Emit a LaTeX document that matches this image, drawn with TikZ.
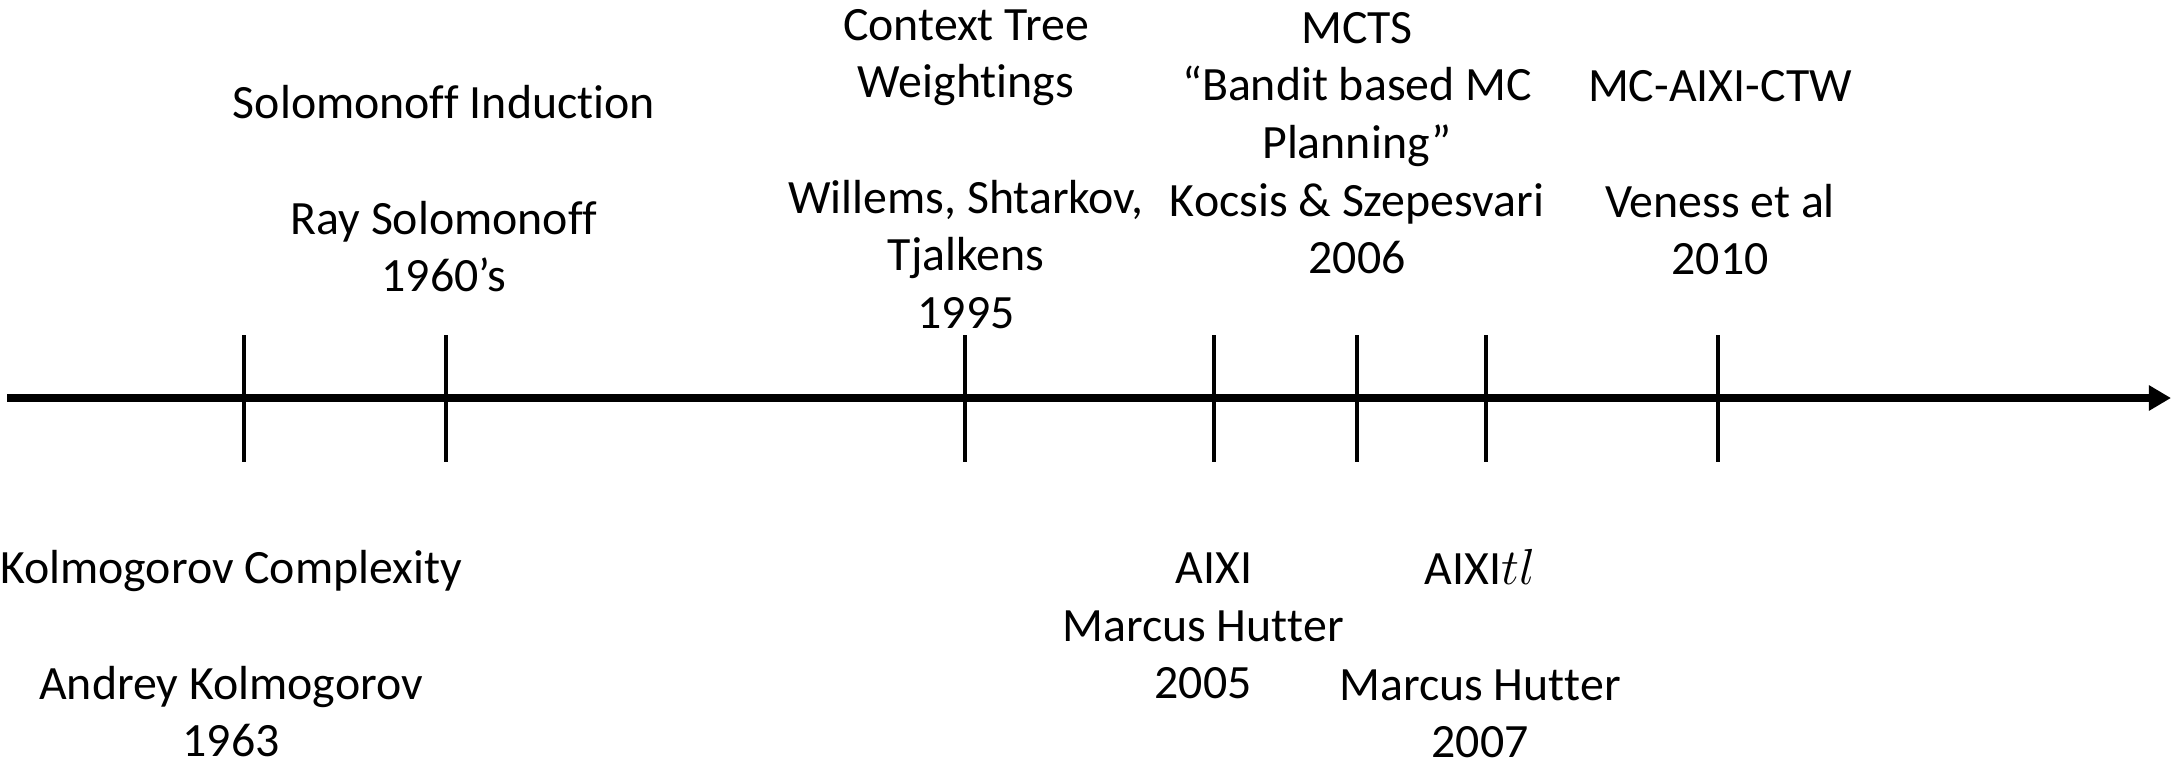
\documentclass[tikz,border=0pt]{standalone}
\usepackage{fontspec}
\setmainfont{Carlito}[Ligatures=CommonOff]
\usetikzlibrary{arrows.meta}
% keep double letters apart (no ff / tt ligatures)
\newcommand{\nolig}{\kern0pt}
\begin{document}
\begin{tikzpicture}[x=0.01cm,y=-0.01cm,
  lbl/.style={align=center,inner sep=0pt,font=\fontsize{13.6}{16.4}\selectfont},
  axis/.style={line width=2.3pt,-{Triangle[length=0.22cm,width=0.24cm]}},
  tick/.style={line width=1.15pt}]
\useasboundingbox (0,0) rectangle (2171,763);
% timeline
\coordinate (start) at (7,398);
\coordinate (end) at (2171,398);
\draw[axis] (start) -- (end);
% year marks
\foreach \n/\x in {t1/244, t2/446, t3/965, t4/1214, t5/1357, t6/1486, t7/1718}{
  \coordinate (\n) at (\x,398);
  \draw[tick] (\x,335) -- (\x,462);
}
% events above the line
\node[lbl] (solo) at (444,189) {Solomonof\nolig f Induction\\ \\Ray Solomonof\nolig f\\1960’s};
\node[lbl] (ctw) at (966,169) {Context Tree\\Weightings\\ \\Willems, Shtarkov,\\Tjalkens\\1995};
\node[lbl] (mcts) at (1357,143) {MCTS\\“Bandit based MC\\Planning”\\Kocsis \& Szepesvari\\2006};
\node[lbl] (mcaixi) at (1720,173) {MC-AIXI-CTW\\ \\Veness et al\\2010};
% events below the line
\node[lbl] (kolm) at (231,654) {Kolmogorov Complexity\\ \\Andrey Kolmogorov\\1963};
\node[lbl] (aixi) at (1203,626) {\hspace*{0.22cm}AIXI\\Marcus Hut\nolig ter\\2005};
\node[lbl] (aixitl) at (1480,654) {AIXI$tl$\\ \\Marcus Hut\nolig ter\\2007};
\end{tikzpicture}
\end{document}
